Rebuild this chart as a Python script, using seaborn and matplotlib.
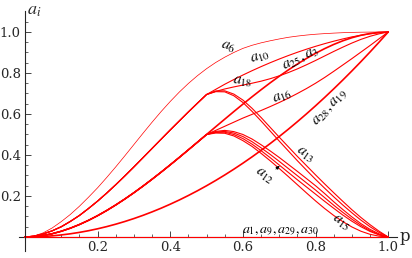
import matplotlib
matplotlib.use("Agg")
import matplotlib.pyplot as plt
import seaborn as sns
import numpy as np

# p grid (step 0.025) and curve values
p = [0.0, 0.025, 0.05, 0.075, 0.1, 0.125, 0.15, 0.175, 0.2, 0.225,
     0.25, 0.275, 0.3, 0.325, 0.35, 0.375, 0.4, 0.425, 0.45, 0.475,
     0.5, 0.525, 0.55, 0.575, 0.6, 0.625, 0.65, 0.675, 0.7, 0.725,
     0.75, 0.775, 0.8, 0.825, 0.85, 0.875, 0.9, 0.925, 0.95, 0.975, 1.0]

a6 = [0, 0.005, 0.02, 0.044, 0.075, 0.11, 0.15, 0.194, 0.24, 0.29,
      0.342, 0.396, 0.451, 0.506, 0.56, 0.612, 0.661, 0.707, 0.749, 0.787,
      0.821, 0.851, 0.877, 0.9, 0.92, 0.935, 0.947, 0.957, 0.966, 0.974,
      0.98, 0.985, 0.989, 0.992, 0.9945, 0.9965, 0.998, 0.999, 0.9995, 0.9998, 1.0]

# common rising part up to the upper knee (p <= 0.5)
upper_left = [0, 0.004, 0.015, 0.03, 0.05, 0.076, 0.105, 0.139, 0.175, 0.214,
              0.255, 0.298, 0.342, 0.387, 0.432, 0.477, 0.522, 0.566, 0.61, 0.653,
              0.695]
a10 = upper_left + [0.72, 0.745, 0.768, 0.79, 0.811, 0.831, 0.85, 0.868, 0.885,
                    0.901, 0.916, 0.93, 0.943, 0.955, 0.966, 0.976, 0.984, 0.991, 0.996, 1.0]
a18 = upper_left + [0.71, 0.722, 0.732, 0.741, 0.75, 0.76, 0.772, 0.786, 0.802,
                    0.82, 0.84, 0.861, 0.883, 0.905, 0.926, 0.946, 0.964, 0.979, 0.991, 1.0]
a13 = upper_left + [0.712, 0.713, 0.697, 0.668, 0.628, 0.583, 0.535, 0.487, 0.44,
                    0.393, 0.348, 0.303, 0.259, 0.216, 0.174, 0.133, 0.095, 0.06, 0.028, 0.0]
a13b = upper_left + [0.709, 0.708, 0.689, 0.656, 0.613, 0.566, 0.517, 0.468, 0.42,
                     0.372, 0.326, 0.281, 0.238, 0.196, 0.156, 0.118, 0.082, 0.05, 0.022, 0.0]

# common rising part up to the lower knee (p <= 0.5)
lower_left = [0, 0.0018, 0.0073, 0.016, 0.028, 0.043, 0.0608, 0.0812, 0.104, 0.1291,
              0.1563, 0.1853, 0.216, 0.2482, 0.2818, 0.3164, 0.352, 0.3883, 0.4253, 0.4625,
              0.5]
a25 = lower_left + [0.5375, 0.5747, 0.6117, 0.648, 0.6836, 0.7182, 0.7518, 0.784, 0.8147,
                    0.8437, 0.8709, 0.896, 0.9188, 0.9392, 0.957, 0.972, 0.984, 0.9927, 0.9982, 1.0]
a16 = lower_left + [0.52, 0.54, 0.56, 0.58, 0.598, 0.617, 0.636, 0.656, 0.677,
                    0.7, 0.724, 0.75, 0.778, 0.808, 0.839, 0.87, 0.902, 0.934, 0.967, 1.0]
f1 = lower_left + [0.515, 0.52, 0.514, 0.5, 0.478, 0.45, 0.42, 0.388, 0.354,
                   0.32, 0.285, 0.25, 0.212, 0.172, 0.134, 0.098, 0.065, 0.037, 0.015, 0.0]
f2 = lower_left + [0.512, 0.515, 0.507, 0.49, 0.465, 0.435, 0.403, 0.369, 0.334,
                   0.299, 0.264, 0.229, 0.192, 0.155, 0.12, 0.087, 0.057, 0.031, 0.012, 0.0]
a12 = lower_left + [0.51, 0.511, 0.5, 0.48, 0.453, 0.421, 0.387, 0.351, 0.315,
                    0.279, 0.244, 0.209, 0.174, 0.14, 0.107, 0.077, 0.05, 0.027, 0.01, 0.0]
a15 = lower_left + [0.507, 0.506, 0.493, 0.47, 0.442, 0.408, 0.372, 0.334, 0.295,
                    0.255, 0.215, 0.176, 0.139, 0.105, 0.075, 0.049, 0.028, 0.013, 0.004, 0.0]

a28 = [0, 0.0006, 0.0025, 0.0056, 0.01, 0.0156, 0.0225, 0.0306, 0.04, 0.0506,
       0.0625, 0.0756, 0.09, 0.1056, 0.1225, 0.1406, 0.16, 0.1806, 0.2025, 0.2256,
       0.25, 0.2756, 0.3025, 0.3306, 0.36, 0.3906, 0.4225, 0.4556, 0.49, 0.5256,
       0.5625, 0.6006, 0.64, 0.6806, 0.7225, 0.7656, 0.81, 0.8556, 0.9025, 0.9506, 1.0]
a1 = [0.0] * len(p)

sns.set_style("ticks")
plt.rcParams['mathtext.fontset'] = 'stix'
plt.rcParams['font.family'] = ['DejaVu Serif']

fig = plt.figure(figsize=(4.12, 2.58), dpi=100)
ax = fig.add_axes([0.0473, 0.0258, 0.917, 0.9297])

red = '#ff0000'
curves = [(a6, 0.5), (a10, 0.8), (a18, 0.8), (a13, 0.8), (a13b, 0.8), (a16, 0.8),
          (f1, 0.8), (f2, 0.8), (a12, 0.8), (a15, 0.8), (a1, 0.8),
          (a25, 1.2), (a28, 1.2)]
for ys, lw in curves:
    sns.lineplot(x=p, y=ys, color=red, lw=lw, ax=ax, estimator=None, sort=False)

ax.set_xlim(-0.015, 1.025)
ax.set_ylim(-0.07, 1.1)
for s in ['top', 'right']:
    ax.spines[s].set_visible(False)
ax.spines['left'].set_position(('data', 0))
ax.spines['bottom'].set_position(('data', 0))
ax.spines['left'].set_linewidth(0.8)
ax.spines['bottom'].set_linewidth(0.8)
ax.spines['bottom'].set_zorder(0)

ax.set_xticks([0.2, 0.4, 0.6, 0.8, 1.0])
ax.set_yticks([0.2, 0.4, 0.6, 0.8, 1.0])
ax.set_xticklabels(['0.2', '0.4', '0.6', '0.8', '1.0'])
ax.set_yticklabels(['0.2', '0.4', '0.6', '0.8', '1.0'])
ax.set_xticks(np.arange(0.05, 1.01, 0.05), minor=True)
ax.set_yticks(np.arange(0.05, 1.06, 0.05), minor=True)
ax.tick_params(which='major', direction='in', length=4, width=0.6, labelsize=9.5, pad=3)
ax.tick_params(which='minor', direction='in', length=2, width=0.5)
ax.set_xlabel('')
ax.set_ylabel('')

ax.text(1.03, 0.0, 'p', fontsize=12, ha='left', va='center')
ax.text(0.005, 1.105, '$a_i$', fontsize=13, ha='left', va='center')

lab = dict(fontsize=11, color='black', ha='center', va='center')
ax.text(0.559, 0.925, '$a_6$', rotation=-15, **lab)
ax.text(0.647, 0.875, '$a_{10}$', rotation=18, **lab)
ax.text(0.758, 0.872, '$a_{25},a_3$', rotation=26, **lab)
ax.text(0.6, 0.755, '$a_{18}$', rotation=-5, **lab)
ax.text(0.71, 0.685, '$a_{16}$', rotation=22, **lab)
ax.text(0.84, 0.63, '$a_{28},a_{19}$', rotation=47, **lab)
ax.text(0.772, 0.4, '$a_{13}$', rotation=-35, **lab)
ax.text(0.66, 0.298, '$a_{12}$', rotation=-35, **lab)
ax.text(0.87, 0.07, '$a_{15}$', rotation=-35, **lab)
ax.text(0.703, 0.036, '$a_1,a_9,a_{29},a_{30}$', fontsize=10, color='black',
        ha='center', va='center')
ax.annotate('', xy=(0.707, 0.356), xytext=(0.685, 0.322),
            arrowprops=dict(arrowstyle='-|>', color='black', lw=0.6,
                            mutation_scale=5))

fig.savefig('out.png', dpi=100)
